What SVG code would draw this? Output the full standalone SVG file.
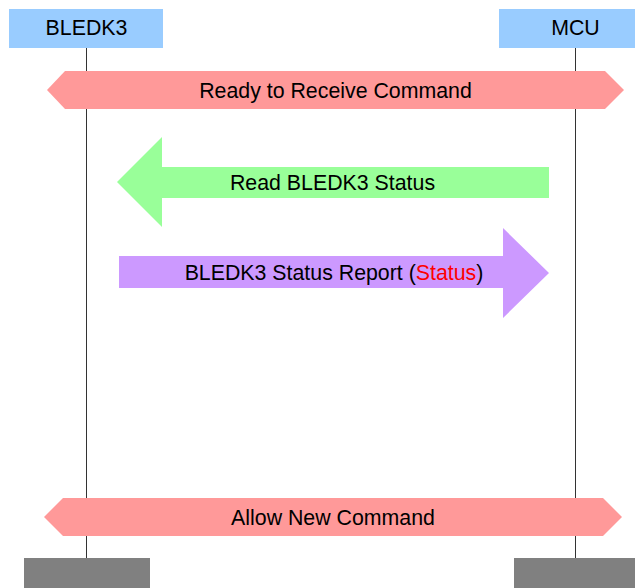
<svg xmlns="http://www.w3.org/2000/svg" width="635" height="588" viewBox="0 0 635 588">
<style>
text{font-family:"Liberation Sans",Arial,sans-serif;font-size:21.33px;fill:#000;text-anchor:middle}
.head{fill:#99ccff}
.foot{fill:#808080}
.life{stroke:#333;stroke-width:1;fill:none}
.band{fill:#ff9999}
.red{fill:#ff0000}
</style>
<rect width="635" height="588" fill="#fff"/>
<g id="lifelines">
<line class="life" x1="86.5" y1="48" x2="86.5" y2="558"/>
<line class="life" x1="575.5" y1="48" x2="575.5" y2="558"/>
</g>
<g id="bledk3">
<rect class="head" x="9" y="9" width="154" height="39"/>
<text x="86.5" y="35">BLEDK3</text>
<rect class="foot" x="24" y="558" width="126" height="30"/>
</g>
<g id="mcu">
<rect class="head" x="499" y="9" width="136" height="39"/>
<text x="575.5" y="35">MCU</text>
<rect class="foot" x="514" y="558" width="121" height="30"/>
</g>
<g id="connectors">
<g id="ready">
<polygon class="band" points="47,90 65,71 605,71 624,90 605,109 65,109"/>
<text x="335.5" y="98">Ready to Receive Command</text>
</g>
<g id="read">
<polygon fill="#99ff99" points="117,182 162,137 162,167 549,167 549,198 162,198 162,227"/>
<text x="332.5" y="189.5">Read BLEDK3 Status</text>
</g>
<g id="report">
<polygon fill="#cc99ff" points="119,256 503,256 503,228 549,273 503,318 503,288 119,288"/>
<text x="334" y="279.5">BLEDK3 Status Report (<tspan class="red">Status</tspan>)</text>
</g>
<g id="allow">
<polygon class="band" points="44,517 63,498 603,498 622,517 603,536 63,536"/>
<text x="333" y="524.5">Allow New Command</text>
</g>
</g>
</svg>
